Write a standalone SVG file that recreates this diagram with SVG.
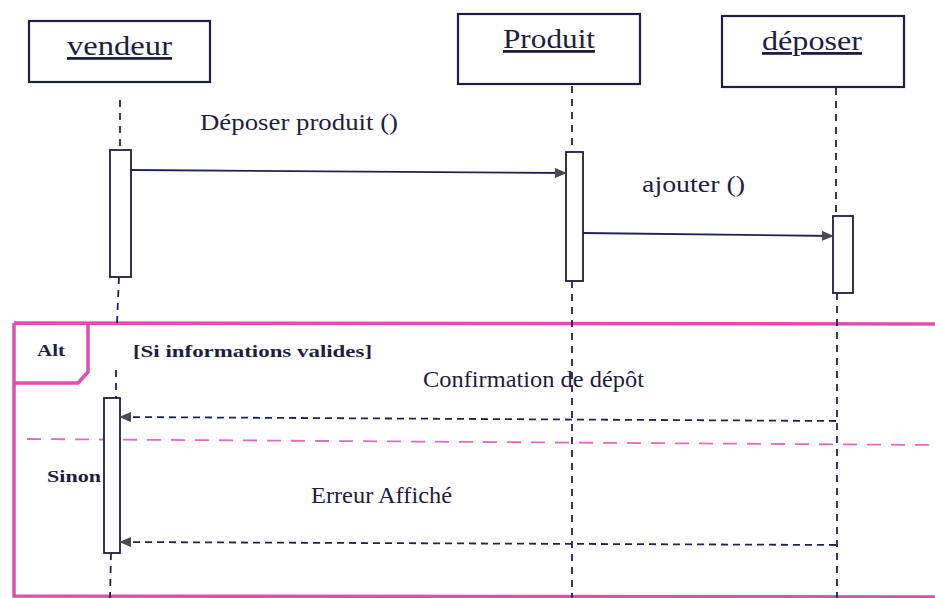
<svg xmlns="http://www.w3.org/2000/svg" width="935" height="598" viewBox="0 0 935 598">
  <style>
    .box { fill: #fff; stroke: #1f1f3f; stroke-width: 2.2; }
    .act { fill: #fff; stroke: #1f1f3f; stroke-width: 1.8; }
    .life { stroke: #23234f; stroke-width: 1.8; stroke-dasharray: 7 6; fill: none; }
    .msg { stroke: #23234f; stroke-width: 1.8; fill: none; }
    .ret { stroke: #23234f; stroke-width: 1.8; stroke-dasharray: 7 5; fill: none; }
    .frame { stroke: #e04db4; stroke-width: 3.5; fill: none; }
    .sep { stroke: #e06ac0; stroke-width: 1.8; stroke-dasharray: 14 10; fill: none; }
    .t { font-family: "Liberation Serif", "Times New Roman", serif; fill: #1e1e3e; }
    .name { font-size: 28px; text-decoration: underline; }
    .lbl { font-size: 23px; }
    .bold { font-size: 17px; font-weight: bold; }
  </style>
  <defs>
    <marker id="arr" markerWidth="12" markerHeight="10" refX="11" refY="5" orient="auto" markerUnits="userSpaceOnUse">
      <path d="M0,0 L12,5 L0,10 Z" fill="#4a4a55"/>
    </marker>
  </defs>

  <rect width="935" height="598" fill="#fff"/>

  <!-- combined fragment "Alt" -->
  <g id="alt-frame">
    <path class="frame" d="M14,323 L935,324 M14,323 L14,596 L935,597"/>
    <path class="frame" d="M14,383 L78,383 L88,372 L88,323"/>
    <line class="sep" x1="27" y1="439" x2="935" y2="445"/>
    <text class="t bold" x="37" y="356" textLength="28" lengthAdjust="spacingAndGlyphs">Alt</text>
    <text class="t bold" x="133" y="357" textLength="239" lengthAdjust="spacingAndGlyphs">[Si informations valides]</text>
    <text class="t bold" x="47" y="482" textLength="54" lengthAdjust="spacingAndGlyphs">Sinon</text>
  </g>

  <!-- lifelines -->
  <g id="lifelines">
    <path class="life" d="M120,100 L120,150 M119,277 L117,323 M116,370 L116,398 M111,553 L110,598"/>
    <path class="life" d="M572,86 L572,152 M572,281 L572,598"/>
    <path class="life" d="M836,88 L836,216 M837,293 L837,598"/>
  </g>

  <!-- objects -->
  <g id="vendeur">
    <rect class="box" x="29" y="21" width="181" height="61"/>
    <text class="t name" x="67" y="55" textLength="105" lengthAdjust="spacingAndGlyphs">vendeur</text>
    <rect class="act" x="110" y="150" width="21" height="127"/>
    <rect class="act" x="104" y="398" width="16" height="155"/>
  </g>
  <g id="produit">
    <rect class="box" x="458" y="14" width="182" height="70"/>
    <text class="t name" x="503" y="48" textLength="92" lengthAdjust="spacingAndGlyphs">Produit</text>
    <rect class="act" x="566" y="152" width="17" height="129"/>
  </g>
  <g id="deposer">
    <rect class="box" x="722" y="16" width="182" height="71"/>
    <text class="t name" x="762" y="50" textLength="100" lengthAdjust="spacingAndGlyphs">déposer</text>
    <rect class="act" x="833" y="216" width="20" height="77"/>
  </g>

  <!-- messages -->
  <g id="connectors">
    <line class="msg" x1="131" y1="170" x2="566" y2="173" marker-end="url(#arr)"/>
    <line class="msg" x1="583" y1="233" x2="833" y2="236" marker-end="url(#arr)"/>
    <line class="ret" x1="836" y1="421" x2="120" y2="417" marker-end="url(#arr)"/>
    <line class="ret" x1="836" y1="545" x2="120" y2="542" marker-end="url(#arr)"/>
  </g>

  <!-- message labels -->
  <g id="labels">
    <text class="t lbl" x="200" y="130" textLength="198" lengthAdjust="spacingAndGlyphs">Déposer produit ()</text>
    <text class="t lbl" x="642" y="192" textLength="103" lengthAdjust="spacingAndGlyphs">ajouter ()</text>
    <text class="t lbl" x="423" y="387" textLength="221" lengthAdjust="spacingAndGlyphs">Confirmation  de dépôt</text>
    <text class="t lbl" x="311" y="503" textLength="141" lengthAdjust="spacingAndGlyphs">Erreur Affiché</text>
  </g>
</svg>
